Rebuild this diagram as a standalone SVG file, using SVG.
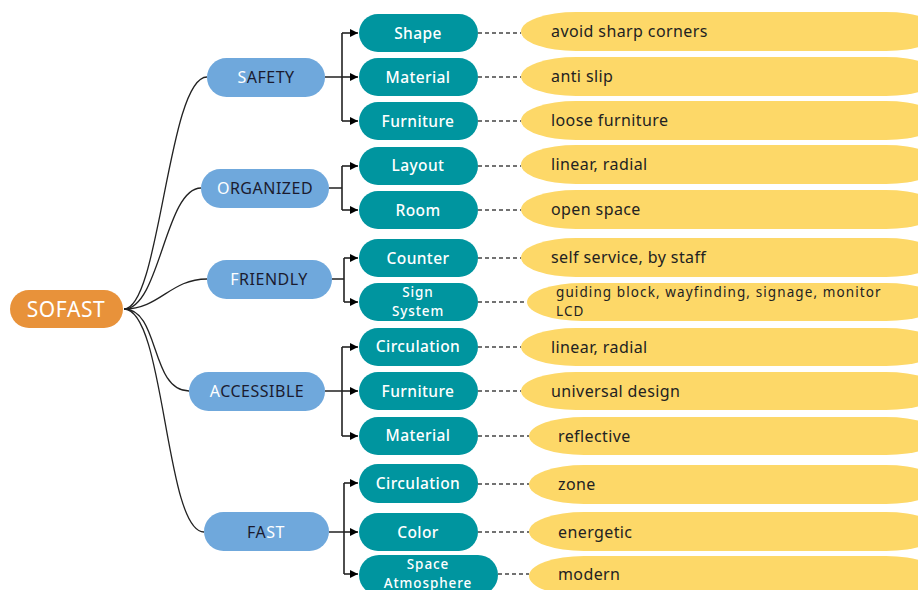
<svg xmlns="http://www.w3.org/2000/svg" width="918" height="590" viewBox="0 0 918 590">
<defs>
<marker id="arr" viewBox="0 0 10 10" refX="10" refY="5" markerWidth="5" markerHeight="5" markerUnits="strokeWidth" orient="auto"><path d="M0,0 L10,5 L0,10 z" fill="#000"/></marker>
<style>
text{font-family:"Noto Sans","DejaVu Sans",sans-serif;}
.root{fill:#E8923A;}
.l1{fill:#6FA8DC;}
.l2{fill:#00959F;}
.l3{fill:#FDD868;}
.t0{fill:#fff;font-size:21px;letter-spacing:0.6px;text-anchor:middle;}
.t1{fill:#1b1b2f;font-size:16px;letter-spacing:0.5px;text-anchor:middle;}
.w{fill:#fff;}
.t2{fill:#fff;font-size:15.5px;letter-spacing:0.4px;font-weight:500;text-anchor:middle;}
.s2{font-size:13.5px;letter-spacing:0.9px;}
.t3{fill:#222;font-size:16px;letter-spacing:0.4px;}
.s3{font-size:13.5px;letter-spacing:1.1px;}
.curve{fill:none;stroke:#222;stroke-width:1.3;}
.tree{fill:none;stroke:#222;stroke-width:1.6;}
.arrow{fill:none;stroke:#222;stroke-width:1.6;marker-end:url(#arr);}
.dash{fill:none;stroke:#444;stroke-width:1.3;stroke-dasharray:4 3;}
</style>
</defs>
<rect width="918" height="590" fill="#fff"/>

<g id="connectors">
<path class="curve" d="M124,309 C160,309 168,77 207,77"/>
<path class="curve" d="M124,309 C160,309 165,188 201,188"/>
<path class="curve" d="M124,309 C160,309 170,279 207,279"/>
<path class="curve" d="M124,309 C160,309 150,391 189,391"/>
<path class="curve" d="M124,309 C165,309 165,532 204,532"/>

<path class="tree" d="M325,77 H342 M342,33 V121"/>
<path class="arrow" d="M342,33 H358"/>
<path class="arrow" d="M342,77 H358"/>
<path class="arrow" d="M342,121 H358"/>

<path class="tree" d="M329,188 H342 M342,166 V210"/>
<path class="arrow" d="M342,166 H358"/>
<path class="arrow" d="M342,210 H358"/>

<path class="tree" d="M332,279 H344 M344,258 V302"/>
<path class="arrow" d="M344,258 H358"/>
<path class="arrow" d="M344,302 H358"/>

<path class="tree" d="M325,391 H342 M342,347 V436"/>
<path class="arrow" d="M342,347 H358"/>
<path class="arrow" d="M342,391 H358"/>
<path class="arrow" d="M342,436 H358"/>

<path class="tree" d="M329,532 H344 M344,483 V574"/>
<path class="arrow" d="M344,483 H358"/>
<path class="arrow" d="M344,532 H358"/>
<path class="arrow" d="M344,574 H358"/>

<path class="dash" d="M478,33 H521"/>
<path class="dash" d="M478,77 H521"/>
<path class="dash" d="M478,121 H521"/>
<path class="dash" d="M478,166 H521"/>
<path class="dash" d="M478,210 H521"/>
<path class="dash" d="M478,258 H521"/>
<path class="dash" d="M478,302 H527"/>
<path class="dash" d="M478,347 H521"/>
<path class="dash" d="M478,391 H521"/>
<path class="dash" d="M478,436 H529"/>
<path class="dash" d="M478,484 H529"/>
<path class="dash" d="M478,532 H529"/>
<path class="dash" d="M498,574 H529"/>
</g>

<g id="n-sofast"><rect class="root" x="10" y="290" width="113" height="38" rx="19"/><text class="t0" x="66" y="316.5">SOFAST</text></g>

<g id="n-safety"><rect class="l1" x="207" y="58" width="118" height="39" rx="19.5"/><text class="t1" x="266" y="83"><tspan class="w">S</tspan>AFETY</text></g>
<g id="n-organized"><rect class="l1" x="201" y="169" width="128" height="39" rx="19.5"/><text class="t1" x="265" y="194"><tspan class="w">O</tspan>RGANIZED</text></g>
<g id="n-friendly"><rect class="l1" x="207" y="260" width="125" height="39" rx="19.5"/><text class="t1" x="269" y="285"><tspan class="w">F</tspan>RIENDLY</text></g>
<g id="n-accessible"><rect class="l1" x="189" y="372" width="136" height="39" rx="19.5"/><text class="t1" x="257" y="397"><tspan class="w">A</tspan>CCESSIBLE</text></g>
<g id="n-fast"><rect class="l1" x="204" y="512" width="125" height="39" rx="19.5"/><text class="t1" x="266" y="538">FA<tspan class="w">ST</tspan></text></g>

<g id="n-shape"><rect class="l2" x="359" y="14" width="119" height="38" rx="19"/><text class="t2" x="418" y="38.5">Shape</text></g>
<g id="n-material1"><rect class="l2" x="359" y="58" width="119" height="38" rx="19"/><text class="t2" x="418" y="82.5">Material</text></g>
<g id="n-furniture1"><rect class="l2" x="359" y="102" width="119" height="38" rx="19"/><text class="t2" x="418" y="126.5">Furniture</text></g>
<g id="n-layout"><rect class="l2" x="359" y="147" width="119" height="38" rx="19"/><text class="t2" x="418" y="171">Layout</text></g>
<g id="n-room"><rect class="l2" x="359" y="191" width="119" height="38" rx="19"/><text class="t2" x="418" y="215.5">Room</text></g>
<g id="n-counter"><rect class="l2" x="359" y="239" width="119" height="38" rx="19"/><text class="t2" x="418" y="263.5">Counter</text></g>
<g id="n-sign"><rect class="l2" x="359" y="283" width="119" height="38" rx="19"/><text class="t2 s2" x="418" y="297">Sign</text><text class="t2 s2" x="418" y="315.5">System</text></g>
<g id="n-circulation1"><rect class="l2" x="359" y="328" width="119" height="38" rx="19"/><text class="t2" x="418" y="352">Circulation</text></g>
<g id="n-furniture2"><rect class="l2" x="359" y="372" width="119" height="38" rx="19"/><text class="t2" x="418" y="396.5">Furniture</text></g>
<g id="n-material2"><rect class="l2" x="359" y="417" width="119" height="38" rx="19"/><text class="t2" x="418" y="441">Material</text></g>
<g id="n-circulation2"><rect class="l2" x="359" y="464" width="119" height="39" rx="19"/><text class="t2" x="418" y="488.5">Circulation</text></g>
<g id="n-color"><rect class="l2" x="359" y="513" width="119" height="38" rx="19"/><text class="t2" x="418" y="537.5">Color</text></g>
<g id="n-space"><rect class="l2" x="359" y="555" width="139" height="40" rx="20"/><text class="t2 s2" x="428" y="569">Space</text><text class="t2 s2" x="428" y="587.5">Atmosphere</text></g>

<g id="n-d1"><rect class="l3" x="521" y="12" width="420" height="39" rx="55" ry="19.5"/><text class="t3" x="551" y="37">avoid sharp corners</text></g>
<g id="n-d2"><rect class="l3" x="521" y="57" width="420" height="39" rx="55" ry="19.5"/><text class="t3" x="551" y="82">anti slip</text></g>
<g id="n-d3"><rect class="l3" x="521" y="101" width="420" height="39" rx="55" ry="19.5"/><text class="t3" x="551" y="126">loose furniture</text></g>
<g id="n-d4"><rect class="l3" x="521" y="145" width="420" height="39" rx="55" ry="19.5"/><text class="t3" x="551" y="170">linear, radial</text></g>
<g id="n-d5"><rect class="l3" x="521" y="190" width="420" height="39" rx="55" ry="19.5"/><text class="t3" x="551" y="215">open space</text></g>
<g id="n-d6"><rect class="l3" x="521" y="238" width="420" height="39" rx="55" ry="19.5"/><text class="t3" x="551" y="263">self service, by staff</text></g>
<g id="n-d7"><rect class="l3" x="527" y="283" width="414" height="38" rx="55" ry="19"/><text class="t3 s3" x="556" y="297">guiding block, wayfinding, signage, monitor</text><text class="t3 s3" x="556" y="315.5">LCD</text></g>
<g id="n-d8"><rect class="l3" x="521" y="328" width="420" height="38" rx="55" ry="19"/><text class="t3" x="551" y="352.5">linear, radial</text></g>
<g id="n-d9"><rect class="l3" x="521" y="372" width="420" height="38" rx="55" ry="19"/><text class="t3" x="551" y="396.5">universal design</text></g>
<g id="n-d10"><rect class="l3" x="529" y="417" width="412" height="38" rx="55" ry="19"/><text class="t3" x="558" y="441.5">reflective</text></g>
<g id="n-d11"><rect class="l3" x="529" y="465" width="412" height="39" rx="55" ry="19.5"/><text class="t3" x="558" y="490">zone</text></g>
<g id="n-d12"><rect class="l3" x="529" y="512" width="412" height="39" rx="55" ry="19.5"/><text class="t3" x="558" y="537.5">energetic</text></g>
<g id="n-d13"><rect class="l3" x="529" y="556" width="412" height="40" rx="55" ry="20"/><text class="t3" x="558" y="579.5">modern</text></g>
</svg>
